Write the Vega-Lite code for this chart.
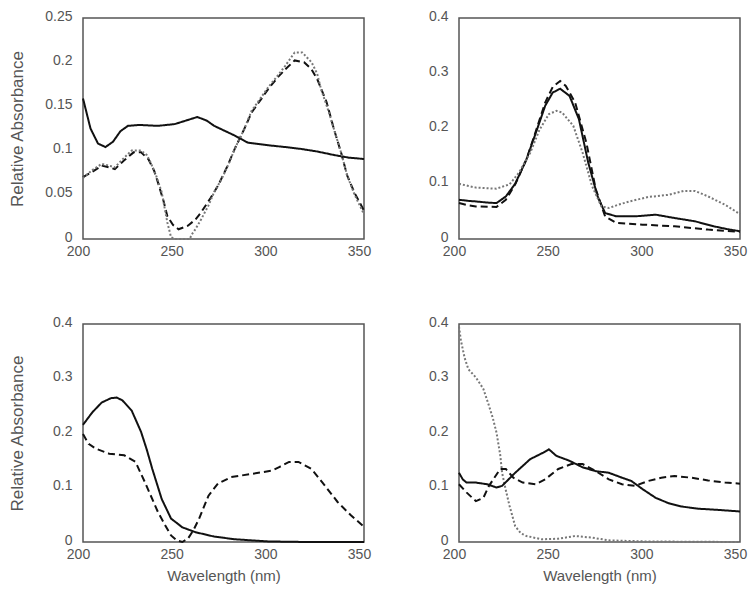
{
"$schema": "https://vega.github.io/schema/vega-lite/v6.json",
"padding": {"left": 7, "top": 8, "right": 2, "bottom": 5},
"background": "white",
"config": {
  "view": {"stroke": "#555", "strokeWidth": 1.5},
  "axis": {"labelFont": "Liberation Sans", "labelFontSize": 14, "labelColor": "#555", "titleFont": "Liberation Sans", "titleColor": "#555", "titleFontWeight": "normal", "domain": false, "ticks": false, "tickSize": 0, "grid": false},
  "axisX": {"labelPadding": 5, "labelOffset": -5, "labelFlush": false, "titleFontSize": 15, "titlePadding": 7},
  "axisY": {"labelPadding": 11, "labelOffset": -2, "minExtent": 42, "maxExtent": 42, "titleFontSize": 17, "titlePadding": 15}
},
"datasets": {
"p1": [
{"w":200,"a":0.159,"s":"solid"},{"w":204,"a":0.125,"s":"solid"},{"w":208,"a":0.108,"s":"solid"},{"w":212,"a":0.104,"s":"solid"},{"w":216,"a":0.11,"s":"solid"},{"w":220,"a":0.122,"s":"solid"},{"w":224,"a":0.128,"s":"solid"},{"w":230,"a":0.129,"s":"solid"},{"w":240,"a":0.128,"s":"solid"},{"w":249,"a":0.130,"s":"solid"},{"w":255,"a":0.134,"s":"solid"},{"w":261,"a":0.138,"s":"solid"},{"w":266,"a":0.134,"s":"solid"},{"w":270,"a":0.128,"s":"solid"},{"w":276,"a":0.122,"s":"solid"},{"w":281,"a":0.117,"s":"solid"},{"w":288,"a":0.109,"s":"solid"},{"w":299,"a":0.106,"s":"solid"},{"w":308,"a":0.104,"s":"solid"},{"w":316,"a":0.102,"s":"solid"},{"w":325,"a":0.099,"s":"solid"},{"w":334,"a":0.095,"s":"solid"},{"w":342,"a":0.092,"s":"solid"},{"w":350,"a":0.0905,"s":"solid"},
{"w":200,"a":0.070,"s":"dashed"},{"w":205,"a":0.076,"s":"dashed"},{"w":210,"a":0.083,"s":"dashed"},{"w":214,"a":0.081,"s":"dashed"},{"w":217,"a":0.079,"s":"dashed"},{"w":222,"a":0.089,"s":"dashed"},{"w":227,"a":0.098,"s":"dashed"},{"w":231,"a":0.098,"s":"dashed"},{"w":235,"a":0.090,"s":"dashed"},{"w":238,"a":0.077,"s":"dashed"},{"w":240,"a":0.064,"s":"dashed"},{"w":243,"a":0.043,"s":"dashed"},{"w":245,"a":0.026,"s":"dashed"},{"w":248,"a":0.016,"s":"dashed"},{"w":251,"a":0.011,"s":"dashed"},{"w":256,"a":0.015,"s":"dashed"},{"w":260,"a":0.022,"s":"dashed"},{"w":263,"a":0.030,"s":"dashed"},{"w":268,"a":0.046,"s":"dashed"},{"w":272,"a":0.060,"s":"dashed"},{"w":277,"a":0.082,"s":"dashed"},{"w":281,"a":0.102,"s":"dashed"},{"w":286,"a":0.124,"s":"dashed"},{"w":290,"a":0.143,"s":"dashed"},{"w":295,"a":0.158,"s":"dashed"},{"w":299,"a":0.170,"s":"dashed"},{"w":304,"a":0.183,"s":"dashed"},{"w":308,"a":0.192,"s":"dashed"},{"w":313,"a":0.202,"s":"dashed"},{"w":318,"a":0.200,"s":"dashed"},{"w":322,"a":0.192,"s":"dashed"},{"w":325,"a":0.181,"s":"dashed"},{"w":330,"a":0.155,"s":"dashed"},{"w":334,"a":0.124,"s":"dashed"},{"w":338,"a":0.096,"s":"dashed"},{"w":341,"a":0.072,"s":"dashed"},{"w":345,"a":0.052,"s":"dashed"},{"w":350,"a":0.032,"s":"dashed"},
{"w":200,"a":0.069,"s":"dotted"},{"w":205,"a":0.078,"s":"dotted"},{"w":210,"a":0.085,"s":"dotted"},{"w":214,"a":0.083,"s":"dotted"},{"w":217,"a":0.081,"s":"dotted"},{"w":222,"a":0.092,"s":"dotted"},{"w":226,"a":0.100,"s":"dotted"},{"w":231,"a":0.100,"s":"dotted"},{"w":234,"a":0.095,"s":"dotted"},{"w":236,"a":0.087,"s":"dotted"},{"w":239,"a":0.072,"s":"dotted"},{"w":242,"a":0.053,"s":"dotted"},{"w":245,"a":0.019,"s":"dotted"},{"w":247,"a":0.002,"s":"dotted"},{"w":249,"a":0,"s":"dotted"},{"w":253,"a":0,"s":"dotted"},{"w":257,"a":0,"s":"dotted"},{"w":258,"a":0.005,"s":"dotted"},{"w":260,"a":0.011,"s":"dotted"},{"w":263,"a":0.022,"s":"dotted"},{"w":267,"a":0.038,"s":"dotted"},{"w":270,"a":0.053,"s":"dotted"},{"w":274,"a":0.068,"s":"dotted"},{"w":278,"a":0.086,"s":"dotted"},{"w":281,"a":0.102,"s":"dotted"},{"w":286,"a":0.124,"s":"dotted"},{"w":290,"a":0.145,"s":"dotted"},{"w":295,"a":0.160,"s":"dotted"},{"w":299,"a":0.172,"s":"dotted"},{"w":304,"a":0.185,"s":"dotted"},{"w":308,"a":0.196,"s":"dotted"},{"w":313,"a":0.211,"s":"dotted"},{"w":317,"a":0.211,"s":"dotted"},{"w":322,"a":0.200,"s":"dotted"},{"w":325,"a":0.187,"s":"dotted"},{"w":327,"a":0.170,"s":"dotted"},{"w":331,"a":0.145,"s":"dotted"},{"w":334,"a":0.124,"s":"dotted"},{"w":338,"a":0.096,"s":"dotted"},{"w":341,"a":0.072,"s":"dotted"},{"w":345,"a":0.050,"s":"dotted"},{"w":350,"a":0.028,"s":"dotted"}
],
"p2": [
{"w":200,"a":0.071,"s":"solid"},{"w":205,"a":0.069,"s":"solid"},{"w":209,"a":0.068,"s":"solid"},{"w":215,"a":0.066,"s":"solid"},{"w":220,"a":0.065,"s":"solid"},{"w":225,"a":0.077,"s":"solid"},{"w":230,"a":0.100,"s":"solid"},{"w":236,"a":0.144,"s":"solid"},{"w":241,"a":0.192,"s":"solid"},{"w":246,"a":0.241,"s":"solid"},{"w":250,"a":0.265,"s":"solid"},{"w":254,"a":0.272,"s":"solid"},{"w":259,"a":0.259,"s":"solid"},{"w":264,"a":0.217,"s":"solid"},{"w":269,"a":0.138,"s":"solid"},{"w":274,"a":0.077,"s":"solid"},{"w":278,"a":0.047,"s":"solid"},{"w":284,"a":0.041,"s":"solid"},{"w":294,"a":0.041,"s":"solid"},{"w":305,"a":0.044,"s":"solid"},{"w":315,"a":0.038,"s":"solid"},{"w":326,"a":0.032,"s":"solid"},{"w":336,"a":0.023,"s":"solid"},{"w":343,"a":0.018,"s":"solid"},{"w":350,"a":0.014,"s":"solid"},
{"w":200,"a":0.065,"s":"dashed"},{"w":205,"a":0.061,"s":"dashed"},{"w":209,"a":0.059,"s":"dashed"},{"w":220,"a":0.058,"s":"dashed"},{"w":225,"a":0.071,"s":"dashed"},{"w":230,"a":0.099,"s":"dashed"},{"w":236,"a":0.144,"s":"dashed"},{"w":241,"a":0.195,"s":"dashed"},{"w":246,"a":0.247,"s":"dashed"},{"w":250,"a":0.275,"s":"dashed"},{"w":254,"a":0.286,"s":"dashed"},{"w":257,"a":0.277,"s":"dashed"},{"w":262,"a":0.247,"s":"dashed"},{"w":268,"a":0.174,"s":"dashed"},{"w":273,"a":0.090,"s":"dashed"},{"w":278,"a":0.041,"s":"dashed"},{"w":284,"a":0.029,"s":"dashed"},{"w":298,"a":0.026,"s":"dashed"},{"w":315,"a":0.023,"s":"dashed"},{"w":333,"a":0.017,"s":"dashed"},{"w":350,"a":0.013,"s":"dashed"},
{"w":200,"a":0.100,"s":"dotted"},{"w":205,"a":0.096,"s":"dotted"},{"w":209,"a":0.093,"s":"dotted"},{"w":220,"a":0.091,"s":"dotted"},{"w":227,"a":0.099,"s":"dotted"},{"w":232,"a":0.120,"s":"dotted"},{"w":238,"a":0.156,"s":"dotted"},{"w":243,"a":0.198,"s":"dotted"},{"w":248,"a":0.226,"s":"dotted"},{"w":252,"a":0.232,"s":"dotted"},{"w":255,"a":0.229,"s":"dotted"},{"w":261,"a":0.205,"s":"dotted"},{"w":266,"a":0.156,"s":"dotted"},{"w":271,"a":0.096,"s":"dotted"},{"w":276,"a":0.059,"s":"dotted"},{"w":280,"a":0.056,"s":"dotted"},{"w":285,"a":0.062,"s":"dotted"},{"w":291,"a":0.068,"s":"dotted"},{"w":301,"a":0.076,"s":"dotted"},{"w":312,"a":0.080,"s":"dotted"},{"w":320,"a":0.087,"s":"dotted"},{"w":326,"a":0.087,"s":"dotted"},{"w":333,"a":0.077,"s":"dotted"},{"w":342,"a":0.062,"s":"dotted"},{"w":350,"a":0.045,"s":"dotted"}
],
"p3": [
{"w":200,"a":0.215,"s":"solid"},{"w":205,"a":0.238,"s":"solid"},{"w":210,"a":0.256,"s":"solid"},{"w":215,"a":0.264,"s":"solid"},{"w":218,"a":0.265,"s":"solid"},{"w":221,"a":0.260,"s":"solid"},{"w":226,"a":0.241,"s":"solid"},{"w":231,"a":0.202,"s":"solid"},{"w":234,"a":0.170,"s":"solid"},{"w":237,"a":0.134,"s":"solid"},{"w":242,"a":0.079,"s":"solid"},{"w":247,"a":0.043,"s":"solid"},{"w":253,"a":0.027,"s":"solid"},{"w":260,"a":0.018,"s":"solid"},{"w":270,"a":0.010,"s":"solid"},{"w":281,"a":0.005,"s":"solid"},{"w":299,"a":0.001,"s":"solid"},{"w":320,"a":0,"s":"solid"},{"w":350,"a":0,"s":"solid"},
{"w":200,"a":0.198,"s":"dashed"},{"w":203,"a":0.180,"s":"dashed"},{"w":207,"a":0.171,"s":"dashed"},{"w":214,"a":0.162,"s":"dashed"},{"w":222,"a":0.159,"s":"dashed"},{"w":228,"a":0.147,"s":"dashed"},{"w":233,"a":0.110,"s":"dashed"},{"w":240,"a":0.055,"s":"dashed"},{"w":244,"a":0.030,"s":"dashed"},{"w":247,"a":0.012,"s":"dashed"},{"w":250,"a":0.003,"s":"dashed"},{"w":253,"a":0,"s":"dashed"},{"w":256,"a":0.006,"s":"dashed"},{"w":259,"a":0.022,"s":"dashed"},{"w":262,"a":0.043,"s":"dashed"},{"w":267,"a":0.085,"s":"dashed"},{"w":272,"a":0.107,"s":"dashed"},{"w":279,"a":0.119,"s":"dashed"},{"w":290,"a":0.125,"s":"dashed"},{"w":301,"a":0.131,"s":"dashed"},{"w":305,"a":0.138,"s":"dashed"},{"w":310,"a":0.147,"s":"dashed"},{"w":315,"a":0.147,"s":"dashed"},{"w":322,"a":0.134,"s":"dashed"},{"w":329,"a":0.104,"s":"dashed"},{"w":336,"a":0.073,"s":"dashed"},{"w":343,"a":0.049,"s":"dashed"},{"w":350,"a":0.028,"s":"dashed"}
],
"p4": [
{"w":200,"a":0.395,"s":"dotted"},{"w":201,"a":0.370,"s":"dotted"},{"w":203,"a":0.338,"s":"dotted"},{"w":205,"a":0.317,"s":"dotted"},{"w":209,"a":0.302,"s":"dotted"},{"w":213,"a":0.281,"s":"dotted"},{"w":216,"a":0.250,"s":"dotted"},{"w":218,"a":0.228,"s":"dotted"},{"w":220,"a":0.201,"s":"dotted"},{"w":222,"a":0.160,"s":"dotted"},{"w":223,"a":0.127,"s":"dotted"},{"w":225,"a":0.095,"s":"dotted"},{"w":227,"a":0.066,"s":"dotted"},{"w":230,"a":0.029,"s":"dotted"},{"w":233,"a":0.016,"s":"dotted"},{"w":236,"a":0.011,"s":"dotted"},{"w":244,"a":0.005,"s":"dotted"},{"w":253,"a":0.006,"s":"dotted"},{"w":262,"a":0.011,"s":"dotted"},{"w":271,"a":0.008,"s":"dotted"},{"w":280,"a":0.003,"s":"dotted"},{"w":300,"a":0.001,"s":"dotted"},{"w":350,"a":0,"s":"dotted"},
{"w":200,"a":0.127,"s":"solid"},{"w":202,"a":0.115,"s":"solid"},{"w":204,"a":0.109,"s":"solid"},{"w":209,"a":0.109,"s":"solid"},{"w":215,"a":0.106,"s":"solid"},{"w":220,"a":0.100,"s":"solid"},{"w":223,"a":0.103,"s":"solid"},{"w":230,"a":0.127,"s":"solid"},{"w":238,"a":0.152,"s":"solid"},{"w":245,"a":0.164,"s":"solid"},{"w":248,"a":0.170,"s":"solid"},{"w":252,"a":0.158,"s":"solid"},{"w":259,"a":0.149,"s":"solid"},{"w":266,"a":0.137,"s":"solid"},{"w":273,"a":0.130,"s":"solid"},{"w":280,"a":0.127,"s":"solid"},{"w":287,"a":0.118,"s":"solid"},{"w":292,"a":0.112,"s":"solid"},{"w":298,"a":0.097,"s":"solid"},{"w":305,"a":0.081,"s":"solid"},{"w":312,"a":0.071,"s":"solid"},{"w":319,"a":0.065,"s":"solid"},{"w":328,"a":0.061,"s":"solid"},{"w":338,"a":0.059,"s":"solid"},{"w":350,"a":0.056,"s":"solid"},
{"w":200,"a":0.106,"s":"dashed"},{"w":204,"a":0.091,"s":"dashed"},{"w":209,"a":0.075,"s":"dashed"},{"w":213,"a":0.081,"s":"dashed"},{"w":216,"a":0.103,"s":"dashed"},{"w":222,"a":0.134,"s":"dashed"},{"w":225,"a":0.134,"s":"dashed"},{"w":229,"a":0.118,"s":"dashed"},{"w":234,"a":0.109,"s":"dashed"},{"w":241,"a":0.106,"s":"dashed"},{"w":246,"a":0.115,"s":"dashed"},{"w":253,"a":0.134,"s":"dashed"},{"w":260,"a":0.143,"s":"dashed"},{"w":266,"a":0.143,"s":"dashed"},{"w":273,"a":0.130,"s":"dashed"},{"w":280,"a":0.115,"s":"dashed"},{"w":287,"a":0.106,"s":"dashed"},{"w":294,"a":0.103,"s":"dashed"},{"w":301,"a":0.112,"s":"dashed"},{"w":308,"a":0.118,"s":"dashed"},{"w":315,"a":0.121,"s":"dashed"},{"w":324,"a":0.118,"s":"dashed"},{"w":333,"a":0.113,"s":"dashed"},{"w":342,"a":0.109,"s":"dashed"},{"w":350,"a":0.107,"s":"dashed"}
]
},
"spacing": 55,
"resolve": {"scale": {"x": "independent", "y": "independent"}},
"vconcat": [
{"hconcat": [
  {"width": 281, "height": 221, "data": {"name": "p1"},
   "mark": {"type": "line", "strokeWidth": 2},
   "encoding": {
     "x": {"field": "w", "type": "quantitative", "scale": {"domain": [200, 350]}, "axis": {"values": [200, 250, 300, 350], "title": null}},
     "y": {"field": "a", "type": "quantitative", "scale": {"domain": [0, 0.25]}, "axis": {"values": [0, 0.05, 0.1, 0.15, 0.2, 0.25], "format": ".2~f", "title": "Relative Absorbance"}},
     "color": {"field": "s", "type": "nominal", "scale": {"domain": ["solid", "dashed", "dotted"], "range": ["#111111", "#111111", "#777777"]}, "legend": null},
     "strokeDash": {"field": "s", "type": "nominal", "scale": {"domain": ["solid", "dashed", "dotted"], "range": [[1, 0], [7, 4], [2, 2]]}, "legend": null}
   }},
  {"width": 281, "height": 221, "data": {"name": "p2"},
   "mark": {"type": "line", "strokeWidth": 2},
   "encoding": {
     "x": {"field": "w", "type": "quantitative", "scale": {"domain": [200, 350]}, "axis": {"values": [200, 250, 300, 350], "title": null}},
     "y": {"field": "a", "type": "quantitative", "scale": {"domain": [0, 0.4]}, "axis": {"values": [0, 0.1, 0.2, 0.3, 0.4], "format": "~g", "title": null}},
     "color": {"field": "s", "type": "nominal", "scale": {"domain": ["solid", "dashed", "dotted"], "range": ["#111111", "#111111", "#777777"]}, "legend": null},
     "strokeDash": {"field": "s", "type": "nominal", "scale": {"domain": ["solid", "dashed", "dotted"], "range": [[1, 0], [7, 4], [2, 2]]}, "legend": null}
   }}
 ], "spacing": 44, "resolve": {"scale": {"x": "independent", "y": "independent"}}},
{"hconcat": [
  {"width": 281, "height": 218, "data": {"name": "p3"},
   "mark": {"type": "line", "strokeWidth": 2},
   "encoding": {
     "x": {"field": "w", "type": "quantitative", "scale": {"domain": [200, 350]}, "axis": {"values": [200, 250, 300, 350], "title": "Wavelength (nm)"}},
     "y": {"field": "a", "type": "quantitative", "scale": {"domain": [0, 0.4]}, "axis": {"values": [0, 0.1, 0.2, 0.3, 0.4], "format": "~g", "title": "Relative Absorbance"}},
     "color": {"field": "s", "type": "nominal", "scale": {"domain": ["solid", "dashed", "dotted"], "range": ["#111111", "#111111", "#777777"]}, "legend": null},
     "strokeDash": {"field": "s", "type": "nominal", "scale": {"domain": ["solid", "dashed", "dotted"], "range": [[1, 0], [7, 4], [2, 2]]}, "legend": null}
   }},
  {"width": 281, "height": 218, "data": {"name": "p4"},
   "mark": {"type": "line", "strokeWidth": 2},
   "encoding": {
     "x": {"field": "w", "type": "quantitative", "scale": {"domain": [200, 350]}, "axis": {"values": [200, 250, 300, 350], "title": "Wavelength (nm)"}},
     "y": {"field": "a", "type": "quantitative", "scale": {"domain": [0, 0.4]}, "axis": {"values": [0, 0.1, 0.2, 0.3, 0.4], "format": "~g", "title": null}},
     "color": {"field": "s", "type": "nominal", "scale": {"domain": ["solid", "dashed", "dotted"], "range": ["#111111", "#111111", "#777777"]}, "legend": null},
     "strokeDash": {"field": "s", "type": "nominal", "scale": {"domain": ["solid", "dashed", "dotted"], "range": [[1, 0], [7, 4], [2, 2]]}, "legend": null}
   }}
 ], "spacing": 44, "resolve": {"scale": {"x": "independent", "y": "independent"}}}
]
}
